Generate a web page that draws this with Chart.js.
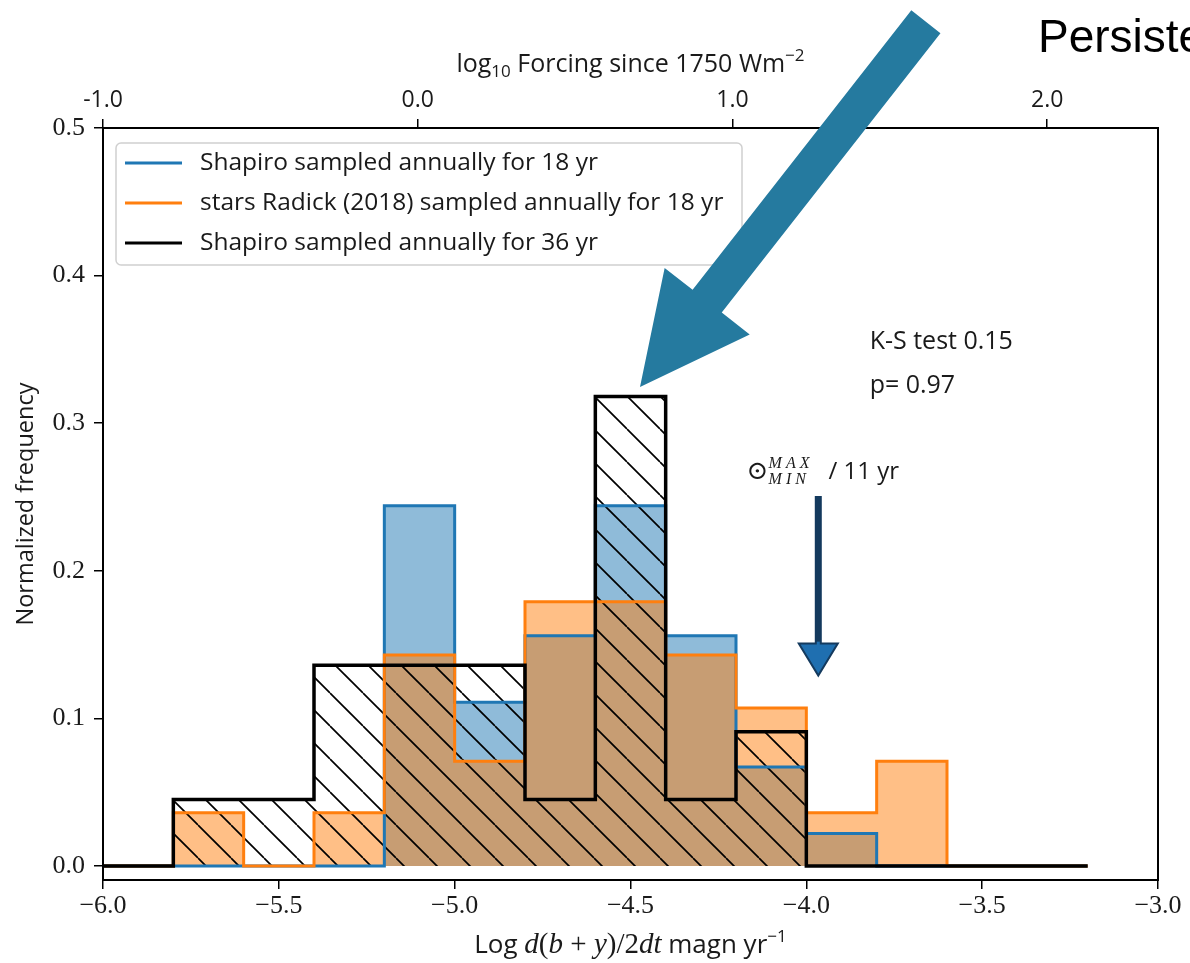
<!DOCTYPE html>
<html>
<head>
<meta charset="utf-8">
<script src="https://cdn.jsdelivr.net/npm/chart.js@4.4.0/dist/chart.umd.min.js"></script>
<style>
body { margin:0; background:#fff; }
#wrap { width:1190px; height:963px; position:relative; }
</style>
</head>
<body>
<div id="wrap"><canvas id="myChart"></canvas></div>
<script>
// histogram bin edges, Log d(b+y)/2dt
var binEdges = [-6.0,-5.8,-5.6,-5.4,-5.2,-5.0,-4.8,-4.6,-4.4,-4.2,-4.0,-3.8,-3.6,-3.4,-3.2];
// normalized frequency per bin
var shapiro18 = [0,0,0,0,0.244,0.111,0.156,0.244,0.156,0.067,0.022,0,0,0];
var radick18  = [0,0.036,0,0.036,0.143,0.071,0.179,0.179,0.143,0.107,0.036,0.071,0,0];
var shapiro36 = [0,0.045,0.045,0.136,0.136,0.136,0.045,0.318,0.045,0.091,0,0,0,0];
var seriesLabels = ['Shapiro sampled annually for 18 yr','stars Radick (2018) sampled annually for 18 yr','Shapiro sampled annually for 36 yr'];
var xTicks = [-6.0,-5.5,-5.0,-4.5,-4.0,-3.5,-3.0];
var yTicks = [0.0,0.1,0.2,0.3,0.4,0.5];
var topTicks = [-1.0,0.0,1.0,2.0];   // log10 forcing since 1750
var ksText = ['K-S test 0.15','p= 0.97'];
var solarCycleX = -3.966;            // position of the 11 yr solar cycle arrow

var SANS = '"Open Sans", sans-serif';
var SERIF = '"Liberation Serif", serif';

var ctx0 = document.getElementById('myChart').getContext('2d');

function stepPoints(vals) {
  var pts = [{x: binEdges[0], y: 0}];
  for (var i = 0; i < vals.length; i++) pts.push({x: binEdges[i], y: vals[i]});
  pts.push({x: binEdges[vals.length], y: vals[vals.length - 1]});
  pts.push({x: binEdges[vals.length], y: 0});
  return pts;
}

function makeHatch() {
  var s = 33;
  var c = document.createElement('canvas');
  c.width = s; c.height = s;
  var g = c.getContext('2d');
  g.strokeStyle = '#000';
  g.lineWidth = 1.7;
  for (var k = -1; k <= 1; k++) {
    g.beginPath(); g.moveTo(k * s, 0); g.lineTo(k * s + s, s); g.stroke();
  }
  return ctx0.createPattern(c, 'repeat');
}

// fills go under all the outlines, like stepfilled + step in matplotlib
function fillSet(vals, bg, order) {
  return { data: stepPoints(vals), stepped: 'before', fill: 'origin', backgroundColor: bg,
           borderWidth: 0, borderColor: 'rgba(0,0,0,0)', pointRadius: 0, order: order };
}
function edgeSet(label, vals, col, w, order) {
  return { label: label, data: stepPoints(vals), stepped: 'before', fill: false,
           borderColor: col, borderWidth: w, pointRadius: 0, order: order };
}

function drawRich(ctx, parts, x, y, align) {
  var w = 0;
  parts.forEach(function (p) { ctx.font = p[1]; w += ctx.measureText(p[0]).width; });
  if (align === 'center') x = x - w / 2;
  ctx.textAlign = 'left';
  ctx.textBaseline = 'alphabetic';
  parts.forEach(function (p) {
    ctx.font = p[1];
    ctx.fillText(p[0], x, y + (p[2] || 0));
    x += ctx.measureText(p[0]).width;
  });
}

function arrow(ctx, x1, y1, x2, y2, shaftW, headW, headL, fill, stroke, lw) {
  var dx = x2 - x1, dy = y2 - y1;
  var len = Math.sqrt(dx * dx + dy * dy);
  var ux = dx / len, uy = dy / len, nx = -uy, ny = ux;
  var bx = x2 - ux * headL, by = y2 - uy * headL;
  ctx.beginPath();
  ctx.moveTo(x1 + nx * shaftW / 2, y1 + ny * shaftW / 2);
  ctx.lineTo(bx + nx * shaftW / 2, by + ny * shaftW / 2);
  ctx.lineTo(bx + nx * headW / 2, by + ny * headW / 2);
  ctx.lineTo(x2, y2);
  ctx.lineTo(bx - nx * headW / 2, by - ny * headW / 2);
  ctx.lineTo(bx - nx * shaftW / 2, by - ny * shaftW / 2);
  ctx.lineTo(x1 - nx * shaftW / 2, y1 - ny * shaftW / 2);
  ctx.closePath();
  ctx.fillStyle = fill;
  ctx.fill();
  if (stroke) { ctx.strokeStyle = stroke; ctx.lineWidth = lw; ctx.stroke(); }
}

var extras = {
  id: 'extras',
  afterDraw: function (chart) {
    var ctx = chart.ctx, a = chart.chartArea;
    var xs = chart.scales.x, ys = chart.scales.y;
    ctx.save();
    // frame
    ctx.strokeStyle = '#000';
    ctx.lineWidth = 2;
    ctx.strokeRect(a.left, a.top, a.right - a.left, a.bottom - a.top);

    // legend
    ctx.fillStyle = 'rgba(255,255,255,0.85)';
    ctx.strokeStyle = '#d0d0d0';
    ctx.lineWidth = 1.5;
    ctx.beginPath();
    ctx.roundRect(116, 143, 626, 122, 5);
    ctx.fill(); ctx.stroke();
    var cols = ['#1f77b4', '#ff7f0e', '#000'];
    for (var i = 0; i < 3; i++) {
      var yy = 163 + i * 40;
      ctx.strokeStyle = cols[i];
      ctx.lineWidth = 3;
      ctx.beginPath(); ctx.moveTo(125, yy); ctx.lineTo(182, yy); ctx.stroke();
      ctx.fillStyle = '#1a1a1a';
      ctx.font = '24.5px ' + SANS;
      ctx.textAlign = 'left'; ctx.textBaseline = 'middle';
      ctx.fillText(seriesLabels[i], 200, yy);
    }

    // axis titles
    ctx.fillStyle = '#1a1a1a';
    drawRich(ctx, [
      ['Log ', '26px ' + SANS],
      ['d', 'italic 29px ' + SERIF], ['(', '29px ' + SERIF], ['b', 'italic 29px ' + SERIF],
      [' + ', '29px ' + SERIF], ['y', 'italic 29px ' + SERIF], [')/2', '29px ' + SERIF],
      ['dt', 'italic 29px ' + SERIF], [' magn yr', '26px ' + SANS], ['\u22121', '17px ' + SANS, -11]
    ], (a.left + a.right) / 2, 953, 'center');
    drawRich(ctx, [
      ['log', '25px ' + SANS], ['10', '17px ' + SANS, 5], [' Forcing since 1750 Wm', '25px ' + SANS],
      ['\u22122', '17px ' + SANS, -11]
    ], (a.left + a.right) / 2, 72, 'center');
    ctx.save();
    ctx.translate(26, (a.top + a.bottom) / 2);
    ctx.rotate(-Math.PI / 2);
    ctx.font = '23.5px ' + SANS;
    ctx.textAlign = 'center'; ctx.textBaseline = 'middle';
    ctx.fillText('Normalized frequency', 0, 0);
    ctx.restore();

    // K-S annotation
    ctx.font = '25px ' + SANS;
    ctx.textAlign = 'left'; ctx.textBaseline = 'middle';
    ctx.fillText(ksText[0], xs.getPixelForValue(-3.82), ys.getPixelForValue(0.355));
    ctx.fillText(ksText[1], xs.getPixelForValue(-3.82), ys.getPixelForValue(0.325));

    // solar cycle label and arrow
    var sx = xs.getPixelForValue(solarCycleX);
    var lx = xs.getPixelForValue(-4.17);
    var ly = ys.getPixelForValue(0.267);
    ctx.textBaseline = 'middle';
    ctx.font = '26px "DejaVu Serif"';
    ctx.fillText('\u2299', lx, ly);
    ctx.font = 'italic 16px ' + SERIF;
    ctx.fillText('M A X', lx + 22, ly - 8);
    ctx.fillText('M I N', lx + 22, ly + 8);
    ctx.font = '24px ' + SANS;
    ctx.fillText('/ 11 yr', lx + 82, ly);
    arrow(ctx, sx, ys.getPixelForValue(0.25), sx, ys.getPixelForValue(0.129), 5, 39, 32, '#1f6fb0', '#143a5e', 2);
    ctx.fillStyle = '#143a5e';
    ctx.fillRect(sx - 2.5, ys.getPixelForValue(0.25), 5, ys.getPixelForValue(0.152) - ys.getPixelForValue(0.25));

    // big highlight arrow
    arrow(ctx, xs.getPixelForValue(-3.66), ys.getPixelForValue(0.572),
          xs.getPixelForValue(-4.473), ys.getPixelForValue(0.3245), 37, 108, 109, '#257a9f');

    // cut-off slide title
    ctx.fillStyle = '#000';
    ctx.font = '46px "Liberation Sans", Arial, sans-serif';
    ctx.textAlign = 'left'; ctx.textBaseline = 'alphabetic';
    ctx.fillText('Persistent', 1038, 52);
    ctx.restore();
  }
};

function tickGrid() {
  return { display: true, drawOnChartArea: false, drawTicks: true, tickLength: 9, color: '#000', lineWidth: 1.5 };
}

var demoChart = new Chart(ctx0, {
  type: 'line',
  data: {
    datasets: [
      fillSet(shapiro18, 'rgba(31,119,180,0.5)', 6),
      fillSet(radick18, 'rgba(255,127,14,0.5)', 5),
      fillSet(shapiro36, makeHatch(), 4),
      edgeSet(seriesLabels[0], shapiro18, '#1f77b4', 3, 3),
      edgeSet(seriesLabels[1], radick18, '#ff7f0e', 3, 2),
      edgeSet(seriesLabels[2], shapiro36, '#000', 3.5, 1)
    ]
  },
  options: {
    responsive: true,
    maintainAspectRatio: false,
    animation: false,
    layout: { padding: { left: 0, right: 32, top: 0, bottom: 0 } },
    plugins: { legend: { display: false }, tooltip: { enabled: false } },
    scales: {
      x: {
        type: 'linear', position: 'bottom', min: -6, max: -3,
        afterBuildTicks: function (s) { s.ticks = xTicks.map(function (v) { return { value: v }; }); },
        afterFit: function (s) { s.height = 83; s.paddingLeft = 0; s.paddingRight = 0; },
        grid: tickGrid(), border: { display: false },
        ticks: { color: '#1a1a1a', font: { family: SERIF, size: 26 }, padding: 2, maxRotation: 0, autoSkip: false,
          callback: function (v) { return (v < 0 ? '\u2212' : '') + Math.abs(v).toFixed(1); } }
      },
      x2: {
        type: 'linear', position: 'top', min: -1.0, max: 2.352,
        afterBuildTicks: function (s) { s.ticks = topTicks.map(function (v) { return { value: v }; }); },
        afterFit: function (s) { s.height = 128; s.paddingLeft = 0; s.paddingRight = 0; },
        grid: tickGrid(), border: { display: false },
        ticks: { color: '#1a1a1a', font: { family: SANS, size: 23 }, padding: 5, maxRotation: 0, autoSkip: false,
          callback: function (v) { return v.toFixed(1); } }
      },
      y: {
        type: 'linear', position: 'left', min: -0.0095, max: 0.5,
        afterBuildTicks: function (s) { s.ticks = yTicks.map(function (v) { return { value: v }; }); },
        afterFit: function (s) { s.width = 103; },
        grid: tickGrid(), border: { display: false },
        ticks: { color: '#1a1a1a', font: { family: SERIF, size: 26 }, padding: 9,
          callback: function (v) { return v.toFixed(1); } }
      }
    }
  },
  plugins: [extras]
});
</script>
</body>
</html>
